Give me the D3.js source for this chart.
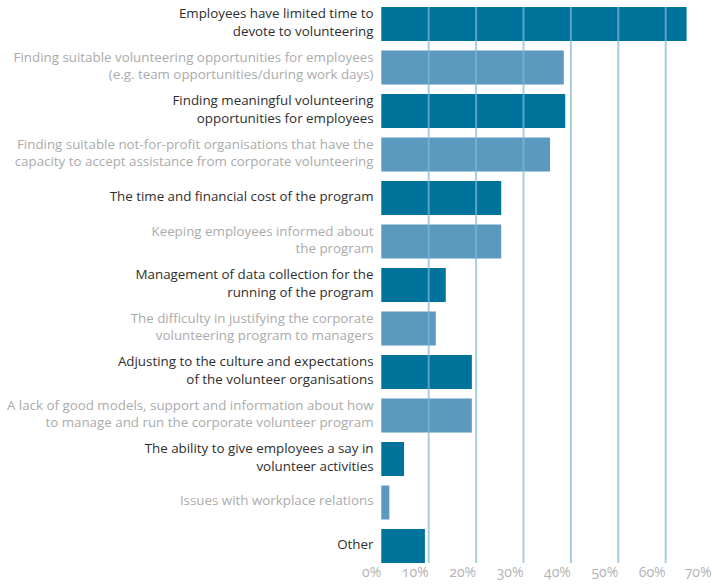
<!DOCTYPE html>
<html>
<head>
<meta charset="utf-8">
<script src="https://cdn.jsdelivr.net/npm/d3@7"></script>
<style>
  html, body { margin: 0; padding: 0; background: #fff; }
  svg { display: block; font-family: "Open Sans", "Noto Sans", sans-serif; }
  .tick-label { font-variant-numeric: oldstyle-nums; font-feature-settings: "onum" 1; }
</style>
</head>
<body>
<svg id="chart" width="712" height="585"></svg>
<script>
// Barriers to corporate volunteering (share of respondents)
const categories = [
  "Employees have limited time to\ndevote to volunteering",
  "Finding suitable volunteering opportunities for employees\n(e.g. team opportunities/during work days)",
  "Finding meaningful volunteering\nopportunities for employees",
  "Finding suitable not-for-profit organisations that have the\ncapacity to accept assistance from corporate volunteering",
  "The time and financial cost of the program",
  "Keeping employees informed about\nthe program",
  "Management of data collection for the\nrunning of the program",
  "The difficulty in justifying the corporate\nvolunteering program to managers",
  "Adjusting to the culture and expectations\nof the volunteer organisations",
  "A lack of good models, support and information about how\nto manage and run the corporate volunteer program",
  "The ability to give employees a say in\nvolunteer activities",
  "Issues with workplace relations",
  "Other"
];
const values = [64.4, 38.5, 38.8, 35.6, 25.3, 25.3, 13.6, 11.5, 19.1, 19.1, 4.8, 1.7, 9.2];
const tickValues = [0, 10, 20, 30, 40, 50, 60, 70];

const svg = d3.select("#chart");
const W = 712;

const x = d3.scaleLinear().domain([0, 70]).range([381.3, 713.1]);
const y = d3.scaleBand()
  .domain(categories)
  .range([2.26, 567.76])
  .paddingInner(0.218)
  .paddingOuter(0.109);

const darkBar = "#00739c", lightBar = "#5b9abe";
const darkText = "#2e2e2e", lightText = "#ababab";

// bars
svg.append("g").selectAll("rect")
  .data(categories)
  .join("rect")
  .attr("x", x(0))
  .attr("y", d => y(d))
  .attr("width", (d, i) => x(values[i]) - x(0))
  .attr("height", y.bandwidth())
  .attr("fill", (d, i) => i % 2 === 0 ? darkBar : lightBar);

// vertical gridlines, drawn over the bars
const gridTop = y(categories[0]);
svg.append("g").selectAll("line")
  .data(tickValues.filter(v => v > 0))
  .join("line")
  .attr("x1", d => x(d)).attr("x2", d => x(d))
  .attr("y1", gridTop).attr("y2", 563)
  .attr("stroke", "rgb(130,183,212)")
  .attr("stroke-opacity", 0.69)
  .attr("stroke-width", 2);

// category labels, right aligned next to the bars
const labelX = 373.5;
const lineH = 17.5;
svg.append("g").selectAll("text")
  .data(categories)
  .join("text")
  .attr("text-anchor", "end")
  .attr("font-size", 13.35)
  .attr("fill", (d, i) => i % 2 === 0 ? darkText : lightText)
  .each(function (d) {
    const lines = d.split("\n");
    const cy = y(d) + y.bandwidth() / 2;
    const t = d3.select(this);
    lines.forEach((ln, k) => {
      t.append("tspan")
        .attr("x", labelX)
        .attr("y", cy + (k - (lines.length - 1) / 2) * lineH)
        .attr("dy", "0.22em")
        .text(ln);
    });
  });

// x axis tick labels, right aligned to each gridline
const axis = d3.axisBottom(x)
  .tickValues(tickValues)
  .tickSize(0)
  .tickFormat(d => d + "%");
const gAxis = svg.append("g")
  .attr("transform", "translate(0,567)")
  .call(axis);
gAxis.select(".domain").remove();
gAxis.selectAll(".tick")
  .attr("transform", d => `translate(${Math.min(x(d), W - 0.5)},0)`);
gAxis.selectAll("text")
  .attr("class", "tick-label")
  .attr("text-anchor", "end")
  .attr("dy", "0.32em")
  .attr("y", 6)
  .attr("font-family", "\"Open Sans\", sans-serif")
  .attr("font-size", 14)
  .attr("fill", "#b3b3b3");
</script>
</body>
</html>
